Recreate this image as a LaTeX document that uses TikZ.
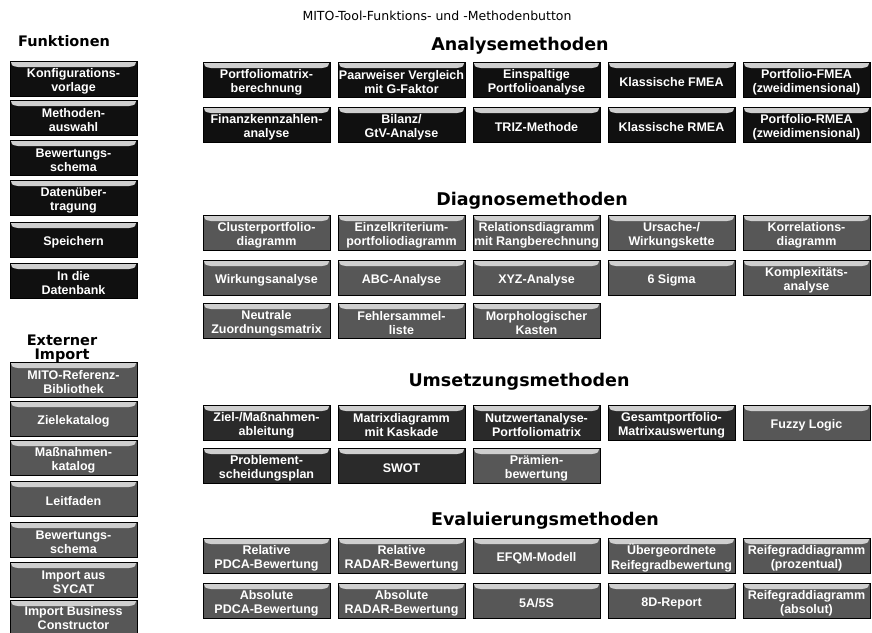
\documentclass[tikz,border=0pt]{standalone}
\usepackage{fontspec}
\setmainfont{Liberation Sans}
\newfontfamily\headfont{DejaVu Sans}

\definecolor{btnblack}{HTML}{101010}
\definecolor{btndark}{HTML}{2A2A2A}
\definecolor{btngray}{HTML}{575757}
\definecolor{bevelgray}{HTML}{CFCFCF}

\tikzset{
  button/.style={
    draw=black, line width=0.9pt, anchor=north west,
    minimum width=127pt, minimum height=35pt, inner sep=0pt, outer sep=0pt,
    path picture={
      \fill[bevelgray]
        ([xshift=1pt,yshift=-1pt]path picture bounding box.north west)
        -- ([xshift=-1pt,yshift=-1pt]path picture bounding box.north east)
        .. controls ([xshift=-2pt,yshift=-5pt]path picture bounding box.north east)
        .. ([xshift=-8pt,yshift=-6pt]path picture bounding box.north east)
        -- ([xshift=8pt,yshift=-6pt]path picture bounding box.north west)
        .. controls ([xshift=2pt,yshift=-5pt]path picture bounding box.north west)
        .. ([xshift=1pt,yshift=-1pt]path picture bounding box.north west)
        -- cycle;
    }
  },
  blackbtn/.style={button, fill=btnblack},
  darkbtn/.style={button, fill=btndark},
  graybtn/.style={button, fill=btngray},
  btnlabel/.style={text=white, align=center, inner sep=0pt,
    font=\bfseries\fontsize{12.5}{14.5}\selectfont},
  sectionhead/.style={anchor=base, inner sep=0pt,
    font=\headfont\bfseries\fontsize{17.5}{20}\selectfont},
  sidehead/.style={anchor=base, inner sep=0pt, align=center,
    font=\headfont\bfseries\fontsize{14.5}{15}\selectfont},
  titletext/.style={anchor=base, inner sep=0pt,
    font=\headfont\fontsize{12.5}{14}\selectfont},
}

% a button: #1 name, #2 style, #3 top-left corner, #4 caption
\newcommand\mitobutton[4]{%
  \node[#2] (#1) at (#3) {};
  \node[btnlabel] (#1-text) at ([yshift=-2.6pt]#1.center) {#4};
}

\begin{document}
\begin{tikzpicture}[x=1pt, y=-1pt]
\useasboundingbox (0,0) rectangle (872,632);

% page title
\node[titletext] (title) at (437,20) {MITO-Tool-Funktions- und -Methodenbutton};

% ---------- left column: functions ----------
\node[sidehead] (funkhead) at (64,46) {Funktionen};
\mitobutton{f1}{blackbtn}{10,61}{Konfigurations-\\vorlage}
\mitobutton{f2}{blackbtn}{10,100}{Methoden-\\auswahl}
\mitobutton{f3}{blackbtn}{10,140}{Bewertungs-\\schema}
\mitobutton{f4}{blackbtn}{10,180}{Datenüber-\\tragung}
\mitobutton{f5}{blackbtn}{10,222}{Speichern}
\mitobutton{f6}{blackbtn}{10,263}{In die\\Datenbank}

% ---------- left column: external import ----------
\node[sidehead] (exthead1) at (62,345) {Externer};
\node[sidehead] (exthead2) at (62,359) {Import};
\mitobutton{e1}{graybtn}{10,362}{MITO-Referenz-\\Bibliothek}
\mitobutton{e2}{graybtn}{10,401}{Zielekatalog}
\mitobutton{e3}{graybtn}{10,440}{Maßnahmen-\\katalog}
\mitobutton{e4}{graybtn}{10,481}{Leitfaden}
\mitobutton{e5}{graybtn}{10,522}{Bewertungs-\\schema}
\mitobutton{e6}{graybtn}{10,562}{Import aus\\SYCAT}
% last button runs past the lower page edge; its caption sits a bit higher
\node[graybtn] (e7) at (10,600) {};
\node[btnlabel] (e7-text) at ([yshift=-0.6pt]e7.center) {Import Business\\Constructor};

% ---------- analysis methods ----------
\node[sectionhead] (anahead) at (520,50) {Analysemethoden};
\mitobutton{a1}{blackbtn}{203,62}{Portfoliomatrix-\\berechnung}
\mitobutton{a2}{blackbtn}{338,62}{Paarweiser Vergleich\\mit G-Faktor}
\mitobutton{a3}{blackbtn}{473,62}{Einspaltige\\Portfolioanalyse}
\mitobutton{a4}{blackbtn}{608,62}{Klassische FMEA}
\mitobutton{a5}{blackbtn}{743,62}{Portfolio-FMEA\\(zweidimensional)}
\mitobutton{a6}{blackbtn}{203,107}{Finanzkennzahlen-\\analyse}
\mitobutton{a7}{blackbtn}{338,107}{Bilanz/\\GtV-Analyse}
\mitobutton{a8}{blackbtn}{473,107}{TRIZ-Methode}
\mitobutton{a9}{blackbtn}{608,107}{Klassische RMEA}
\mitobutton{a10}{blackbtn}{743,107}{Portfolio-RMEA\\(zweidimensional)}

% ---------- diagnosis methods ----------
\node[sectionhead] (diahead) at (532,205) {Diagnosemethoden};
\mitobutton{d1}{graybtn}{203,215}{Clusterportfolio-\\diagramm}
\mitobutton{d2}{graybtn}{338,215}{Einzelkriterium-\\portfoliodiagramm}
\mitobutton{d3}{graybtn}{473,215}{Relationsdiagramm\\mit Rangberechnung}
\mitobutton{d4}{graybtn}{608,215}{Ursache-/\\Wirkungskette}
\mitobutton{d5}{graybtn}{743,215}{Korrelations-\\diagramm}
\mitobutton{d6}{graybtn}{203,260}{Wirkungsanalyse}
\mitobutton{d7}{graybtn}{338,260}{ABC-Analyse}
\mitobutton{d8}{graybtn}{473,260}{XYZ-Analyse}
\mitobutton{d9}{graybtn}{608,260}{6 Sigma}
\mitobutton{d10}{graybtn}{743,260}{Komplexitäts-\\analyse}
\mitobutton{d11}{graybtn}{203,303}{Neutrale\\Zuordnungsmatrix}
\mitobutton{d12}{graybtn}{338,303}{Fehlersammel-\\liste}
\mitobutton{d13}{graybtn}{473,303}{Morphologischer\\Kasten}

% ---------- implementation methods ----------
\node[sectionhead] (umshead) at (519,386) {Umsetzungsmethoden};
\mitobutton{u1}{darkbtn}{203,405}{Ziel-/Maßnahmen-\\ableitung}
\mitobutton{u2}{darkbtn}{338,405}{Matrixdiagramm\\mit Kaskade}
\mitobutton{u3}{darkbtn}{473,405}{Nutzwertanalyse-\\Portfoliomatrix}
\mitobutton{u4}{darkbtn}{608,405}{Gesamtportfolio-\\Matrixauswertung}
\mitobutton{u5}{graybtn}{743,405}{Fuzzy Logic}
\mitobutton{u6}{darkbtn}{203,448}{Problement-\\scheidungsplan}
\mitobutton{u7}{darkbtn}{338,448}{SWOT}
\mitobutton{u8}{graybtn}{473,448}{Prämien-\\bewertung}

% ---------- evaluation methods ----------
\node[sectionhead] (evahead) at (545,525) {Evaluierungsmethoden};
\mitobutton{v1}{graybtn}{203,538}{Relative\\PDCA-Bewertung}
\mitobutton{v2}{graybtn}{338,538}{Relative\\RADAR-Bewertung}
\mitobutton{v3}{graybtn}{473,538}{EFQM-Modell}
\mitobutton{v4}{graybtn}{608,538}{Übergeordnete\\Reifegradbewertung}
\mitobutton{v5}{graybtn}{743,538}{Reifegraddiagramm\\(prozentual)}
\mitobutton{v6}{graybtn}{203,583}{Absolute\\PDCA-Bewertung}
\mitobutton{v7}{graybtn}{338,583}{Absolute\\RADAR-Bewertung}
\mitobutton{v8}{graybtn}{473,583}{5A/5S}
\mitobutton{v9}{graybtn}{608,583}{8D-Report}
\mitobutton{v10}{graybtn}{743,583}{Reifegraddiagramm\\(absolut)}
\end{tikzpicture}
\end{document}
